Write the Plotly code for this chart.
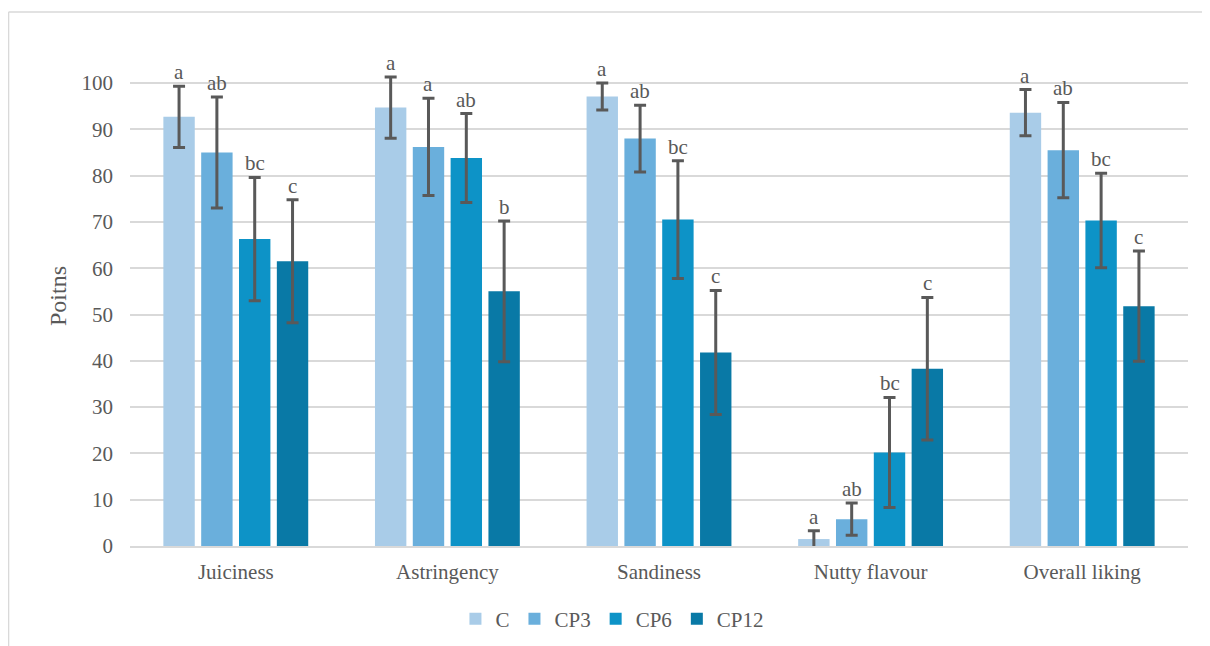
import plotly.graph_objects as go

categories = ["Juiciness", "Astringency", "Sandiness", "Nutty flavour", "Overall liking"]
series_names = ["C", "CP3", "CP6", "CP12"]
values_C = [92.7, 94.7, 97.1, 1.5, 93.6]
values_CP3 = [85.0, 86.2, 88.0, 5.8, 85.5]
values_CP6 = [66.3, 83.8, 70.5, 20.2, 70.3]
values_CP12 = [61.5, 55.0, 41.8, 38.3, 51.8]
err_C = [6.6, 6.6, 2.9, 1.8, 5.0]
err_CP3 = [12.0, 10.5, 7.2, 3.5, 10.3]
err_CP6 = [13.3, 9.6, 12.7, 11.9, 10.2]
err_CP12 = [13.3, 15.2, 13.4, 15.4, 11.9]
letters_C = ["a", "a", "a", "a", "a"]
letters_CP3 = ["ab", "a", "ab", "ab", "ab"]
letters_CP6 = ["bc", "ab", "bc", "bc", "bc"]
letters_CP12 = ["c", "b", "c", "c", "c"]
tick_vals = [0, 10, 20, 30, 40, 50, 60, 70, 80, 90, 100]

colors = ["#A9CCE8", "#6AAFDC", "#0D93C7", "#0979A6"]
FONT = "Liberation Serif"
TXT = "#595959"
bargap = 0.285

vals = [values_C, values_CP3, values_CP6, values_CP12]
errs = [err_C, err_CP3, err_CP6, err_CP12]
lets = [letters_C, letters_CP3, letters_CP6, letters_CP12]

fig = go.Figure()
for name, v, e, col in zip(series_names, vals, errs, colors):
    fig.add_trace(go.Bar(
        name=name, x=categories, y=v, marker_color=col, marker_line_width=0,
        error_y=dict(type="data", array=e, visible=True, color="#595959",
                     thickness=3, width=6),
    ))

slot = (1 - bargap) / 4
annotations = []
for si, (v, e, L) in enumerate(zip(vals, errs, lets)):
    off = (si - 1.5) * slot
    for ci in range(len(categories)):
        annotations.append(dict(
            x=ci + off, y=v[ci] + e[ci], xref="x", yref="y", text=L[ci],
            showarrow=False, yanchor="bottom", yshift=0,
            font=dict(family=FONT, size=21, color=TXT),
        ))

shapes = [
    dict(type="line", xref="paper", yref="paper", x0=-0.1148, x1=1.03, y0=1.068, y1=1.068,
         line=dict(color="#D9D9D9", width=1.5)),
    dict(type="line", xref="paper", yref="paper", x0=-0.1148, x1=-0.1148, y0=1.068, y1=-0.21,
         line=dict(color="#D9D9D9", width=1.5)),
]

fig.update_layout(
    width=1202, height=638,
    margin=dict(l=122, r=22, t=38, b=100, autoexpand=False),
    paper_bgcolor="white", plot_bgcolor="white",
    barmode="group", bargap=bargap, bargroupgap=0.17,
    font=dict(family=FONT, color=TXT, size=21),
    annotations=annotations, shapes=shapes,
    legend=dict(orientation="h", x=0.456, xanchor="center", y=-0.146, yanchor="middle",
                font=dict(family=FONT, size=21, color=TXT), itemwidth=30,
                tracegroupgap=0),
    xaxis=dict(showgrid=False, showline=True, linecolor="#D9D9D9", linewidth=1.5,
               ticks="", tickfont=dict(family=FONT, size=21, color=TXT),
               ticklabelstandoff=6),
    yaxis=dict(range=[0, 108], tickvals=tick_vals, showgrid=True, gridcolor="#D9D9D9",
               gridwidth=1.5, zeroline=False, showline=False, ticks="",
               tickfont=dict(family=FONT, size=21, color=TXT), ticklabelstandoff=16,
               title=dict(text="Poitns", font=dict(family=FONT, size=24, color=TXT), standoff=8)),
)

fig.write_html("out.html")
